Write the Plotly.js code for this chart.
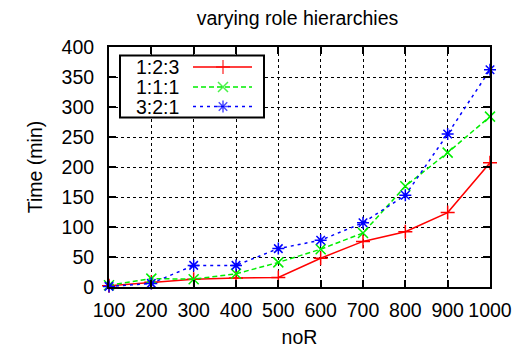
<!DOCTYPE html>
<html>
<head>
<meta charset="utf-8">
<script src="https://cdn.plot.ly/plotly-3.0.1.min.js"></script>
<style>html,body{margin:0;padding:0;background:#fff;}#chart{width:521px;height:350px;}</style>
</head>
<body>
<div id="chart"></div>
<script>
const noR = [100, 200, 300, 400, 500, 600, 700, 800, 900, 1000];
const seriesNames = ["1:2:3", "1:1:1", "3:2:1"];
const time123 = [2, 8, 13, 15, 16, 48, 76, 92, 124, 207];
const time111 = [3, 14, 13, 22, 41, 63, 90, 168, 224, 284];
const time321 = [1, 6, 36, 36, 64, 78, 107, 153, 255, 362];
const xTicks = [100, 200, 300, 400, 500, 600, 700, 800, 900, 1000];
const yTicks = [0, 50, 100, 150, 200, 250, 300, 350, 400];

const FONT = "Liberation Sans, Arial, sans-serif";
const FS = 19.5;
const styles = [
  {color: "#ff0000", dash: "solid", symbol: "cross-thin"},
  {color: "#00ee00", dash: "5px,3px", symbol: "x-thin"},
  {color: "#0000ff", dash: "3px,4px", symbol: "asterisk-open"}
];
const values = [time123, time111, time321];

const L = 109, R = 490, T = 47, B = 287;
const X0 = 100, X1 = 1000, Y0 = 0, Y1 = 400;
const px2x = p => X0 + (p - L) / (R - L) * (X1 - X0);
const py2y = p => Y0 + (B - p) / (B - T) * (Y1 - Y0);

const traces = [];
values.forEach((v, i) => {
  traces.push({
    x: noR, y: v, type: "scatter", mode: "lines+markers", name: seriesNames[i],
    cliponaxis: false, showlegend: false,
    line: {color: styles[i].color, width: 1.5, dash: styles[i].dash},
    marker: {symbol: styles[i].symbol, size: 10, color: styles[i].color,
             line: {color: styles[i].color, width: 1.5}}
  });
});
const rowY = [67, 87, 106.5];
const annotations = [];
seriesNames.forEach((n, i) => {
  const yy = py2y(rowY[i]);
  traces.push({
    x: [px2x(193), px2x(223), px2x(252)], y: [yy, yy, yy],
    type: "scatter", mode: "lines+markers", showlegend: false, hoverinfo: "skip",
    cliponaxis: false,
    line: {color: styles[i].color, width: 1.5, dash: styles[i].dash},
    marker: {symbol: styles[i].symbol, size: [0, 10, 0], color: styles[i].color,
             line: {color: styles[i].color, width: 1.5}}
  });
  annotations.push({
    x: px2x(181), y: yy, xref: "x", yref: "y", text: n, showarrow: false,
    xanchor: "right", yanchor: "middle", font: {family: FONT, size: FS, color: "#000"}
  });
});

const layout = {
  width: 521, height: 350,
  margin: {l: L, r: 521 - R, t: T, b: 350 - B, pad: 0},
  paper_bgcolor: "#fff", plot_bgcolor: "#fff",
  font: {family: FONT, size: FS, color: "#000"},
  title: {text: "varying role hierarchies", x: 297.5 / 521, xanchor: "center", y: 1 - 18 / 350, yanchor: "middle",
          font: {family: FONT, size: FS, color: "#000"}},
  xaxis: {
    range: [X0, X1], tickvals: xTicks, ticktext: xTicks.map(String),
    ticks: "inside", ticklen: 7, tickwidth: 2, tickcolor: "#000",
    showline: true, linewidth: 2, linecolor: "#000", mirror: "allticks",
    showgrid: true, gridcolor: "#000000", gridwidth: 1, griddash: "dot",
    zeroline: false, tickfont: {family: FONT, size: FS}, ticklabelstandoff: 5,
    title: {text: "noR", font: {family: FONT, size: FS}, standoff: 10}
  },
  yaxis: {
    range: [Y0, Y1], tickvals: yTicks, ticktext: yTicks.map(String),
    ticks: "inside", ticklen: 7, tickwidth: 2, tickcolor: "#000",
    showline: true, linewidth: 2, linecolor: "#000", mirror: "allticks",
    showgrid: true, gridcolor: "#000000", gridwidth: 1, griddash: "dot",
    zeroline: false, tickfont: {family: FONT, size: FS}, ticklabelstandoff: 9,
    title: {text: "Time (min)", font: {family: FONT, size: FS}, standoff: 14}
  },
  shapes: [{
    type: "rect", xref: "x", yref: "y", x0: px2x(120), x1: px2x(264), y0: py2y(55.5), y1: py2y(117.5),
    line: {color: "#000", width: 2}, fillcolor: "#fff", layer: "between"
  }],
  annotations: annotations
};
Plotly.newPlot("chart", traces, layout, {staticPlot: true, displayModeBar: false});
</script>
</body>
</html>
